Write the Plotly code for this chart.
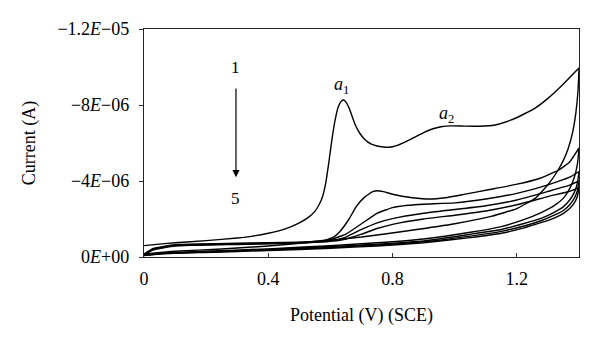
import numpy as np
import plotly.graph_objects as go

# Potentials (V) and currents (microampere)
c1_fwd_v = [0, 0.05, 0.1, 0.2, 0.3, 0.35, 0.4, 0.45, 0.5, 0.53, 0.55, 0.565, 0.575, 0.585, 0.595, 0.605, 0.615, 0.625, 0.635, 0.643, 0.65, 0.66, 0.67, 0.68, 0.695, 0.71, 0.73, 0.75, 0.77, 0.79, 0.81, 0.84, 0.87, 0.9, 0.93, 0.96, 0.99, 1.03, 1.08, 1.13, 1.18, 1.22, 1.26, 1.3, 1.34, 1.37, 1.4]
c1_fwd_i = [-0.6, -0.68, -0.75, -0.86, -1.0, -1.1, -1.25, -1.45, -1.8, -2.1, -2.4, -2.8, -3.2, -3.9, -5.0, -6.2, -7.2, -7.9, -8.2, -8.26, -8.15, -7.85, -7.4, -6.95, -6.5, -6.2, -5.95, -5.84, -5.79, -5.78, -5.85, -6.05, -6.3, -6.55, -6.75, -6.87, -6.9, -6.89, -6.88, -6.95, -7.2, -7.5, -7.85, -8.35, -8.95, -9.45, -9.95]
c1_rev_v = [1.4, 1.397, 1.39, 1.38, 1.365, 1.35, 1.33, 1.3, 1.26, 1.2, 1.12, 1.0, 0.85, 0.7, 0.55, 0.4, 0.25, 0.1, 0.03, 0]
c1_rev_i = [-9.95, -8.8, -7.6, -6.6, -5.7, -5.1, -4.5, -3.8, -3.1, -2.55, -2.15, -1.75, -1.38, -1.05, -0.8, -0.58, -0.42, -0.3, -0.2, -0.15]

c2_fwd_v = [0, 0.03, 0.1, 0.3, 0.5, 0.575, 0.61, 0.63, 0.66, 0.683, 0.71, 0.736, 0.752, 0.77, 0.8, 0.864, 0.919, 0.97, 1.025, 1.112, 1.197, 1.27, 1.337, 1.37, 1.4]
c2_fwd_i = [-0.15, -0.45, -0.65, -0.72, -0.78, -0.85, -1.05, -1.33, -2.0, -2.65, -3.15, -3.44, -3.49, -3.44, -3.3, -3.12, -3.05, -3.12, -3.28, -3.55, -3.82, -4.12, -4.6, -5.0, -5.74]

rev_v = [1.4, 1.395, 1.385, 1.37, 1.35, 1.32, 1.28, 1.22, 1.15, 1.05, 0.9, 0.75, 0.6, 0.4, 0.2, 0.05, 0]
c2_rev_i = [-5.74, -4.9, -4.2, -3.6, -3.1, -2.7, -2.35, -1.95, -1.6, -1.3, -0.95, -0.75, -0.6, -0.43, -0.3, -0.2, -0.12]

c3_fwd_v = [0, 0.03, 0.1, 0.3, 0.5, 0.6, 0.65, 0.7, 0.75, 0.8, 0.85, 0.9, 1.0, 1.1, 1.2, 1.3, 1.37, 1.4]
c3_fwd_i = [-0.12, -0.42, -0.62, -0.7, -0.77, -0.92, -1.2, -1.75, -2.3, -2.6, -2.72, -2.78, -2.85, -3.05, -3.35, -3.8, -4.2, -4.5]
c3_rev_i = [-4.5, -3.9, -3.4, -3.0, -2.65, -2.35, -2.05, -1.75, -1.45, -1.2, -0.85, -0.68, -0.55, -0.4, -0.28, -0.18, -0.1]

c45_fwd_v = [0, 0.03, 0.1, 0.3, 0.5, 0.6, 0.65, 0.7, 0.75, 0.8, 0.9, 1.0, 1.1, 1.2, 1.3, 1.37, 1.4]
c4_fwd_i = [-0.1, -0.4, -0.6, -0.68, -0.75, -0.85, -1.05, -1.45, -1.8, -2.02, -2.3, -2.5, -2.7, -3.0, -3.45, -3.78, -4.0]
c4_rev_i = [-4.0, -3.5, -3.1, -2.75, -2.45, -2.2, -1.92, -1.62, -1.35, -1.1, -0.8, -0.63, -0.5, -0.37, -0.26, -0.17, -0.1]
c5_fwd_i = [-0.1, -0.38, -0.58, -0.66, -0.73, -0.82, -0.95, -1.2, -1.5, -1.72, -2.0, -2.2, -2.42, -2.75, -3.18, -3.46, -3.65]
c5_rev_i = [-3.65, -3.2, -2.85, -2.55, -2.3, -2.05, -1.82, -1.52, -1.25, -1.02, -0.75, -0.58, -0.46, -0.34, -0.24, -0.16, -0.08]

y_tick_vals = [0, -4e-6, -8e-6, -1.2e-5]
y_tick_text = ["0<i>E</i>+00", "\u22124<i>E</i>\u221206", "\u22128<i>E</i>\u221206", "\u22121.2<i>E</i>\u221205"]
x_tick_vals = [0, 0.4, 0.8, 1.2]
x_tick_text = ["0", "0.4", "0.8", "1.2"]

FONT = "Liberation Serif"

cycles = [
    (c1_fwd_v + c1_rev_v, c1_fwd_i + c1_rev_i),
    (c2_fwd_v + rev_v, c2_fwd_i + c2_rev_i),
    (c3_fwd_v + rev_v, c3_fwd_i + c3_rev_i),
    (c45_fwd_v + rev_v, c4_fwd_i + c4_rev_i),
    (c45_fwd_v + rev_v, c5_fwd_i + c5_rev_i),
]

fig = go.Figure()
for v, i in cycles:
    fig.add_trace(go.Scatter(
        x=v, y=np.array(i) * 1e-6, mode="lines",
        line=dict(color="black", width=1.4, shape="spline", smoothing=0.4),
        showlegend=False, hoverinfo="skip"))

# page body has an 8px margin, so the figure is drawn 8px in from the corner
fig.update_layout(
    width=592, height=338,
    margin=dict(l=136, r=21, t=21, b=89),
    paper_bgcolor="white", plot_bgcolor="white",
    font=dict(family=FONT, size=18, color="black"),
    showlegend=False,
)
fig.update_xaxes(
    range=[0, 1.4], tickvals=x_tick_vals, ticktext=x_tick_text,
    ticks="inside", ticklen=4, tickcolor="#333", tickwidth=1,
    showline=True, linecolor="#222", linewidth=1.4, mirror=True,
    showgrid=False, zeroline=False, ticklabelstandoff=5,
    tickfont=dict(family=FONT, size=18),
    title=dict(text="Potential (V) (SCE)", font=dict(family=FONT, size=18), standoff=20),
)
fig.update_yaxes(
    range=[0, -1.2e-5], tickvals=y_tick_vals, ticktext=y_tick_text,
    ticks="outside", ticklen=4, tickcolor="#333", tickwidth=1,
    showline=True, linecolor="#222", linewidth=1.4, mirror=True,
    showgrid=False, zeroline=False, ticklabelstandoff=6,
    tickfont=dict(family=FONT, size=18),
    title=dict(text="Current (A)", font=dict(family=FONT, size=18), standoff=17),
)

# Annotations
fig.add_annotation(x=0.296, y=-4.2e-6, ax=0.296, ay=-8.95e-6, xref="x", yref="y",
                   axref="x", ayref="y", text="", showarrow=True,
                   arrowhead=2, arrowsize=1.2, arrowwidth=1.2, arrowcolor="black")
fig.add_annotation(x=0.296, y=-9.95e-6, text="1", showarrow=False,
                   font=dict(family=FONT, size=17))
fig.add_annotation(x=0.296, y=-3.1e-6, text="5", showarrow=False,
                   font=dict(family=FONT, size=17))
fig.add_annotation(x=0.635, y=-9.05e-6, text="<i>a</i><sub>1</sub>", showarrow=False,
                   font=dict(family=FONT, size=18))
fig.add_annotation(x=0.973, y=-7.5e-6, text="<i>a</i><sub>2</sub>", showarrow=False,
                   font=dict(family=FONT, size=18))

fig.write_html("out.html")
